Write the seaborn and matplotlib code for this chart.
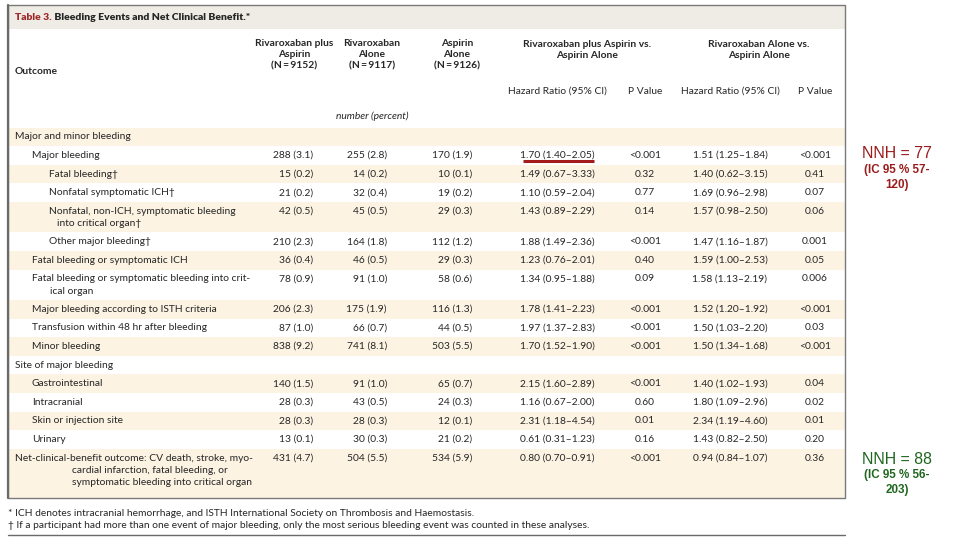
import numpy as np
import pandas as pd
import matplotlib
matplotlib.use("Agg")
import matplotlib.pyplot as plt
import seaborn as sns

# table content
outcomes = [
    "Major and minor bleeding",
    "Major bleeding",
    "Fatal bleeding†",
    "Nonfatal symptomatic ICH†",
    "Nonfatal, non-ICH, symptomatic bleeding\ninto critical organ†",
    "Other major bleeding†",
    "Fatal bleeding or symptomatic ICH",
    "Fatal bleeding or symptomatic bleeding into crit-\nical organ",
    "Major bleeding according to ISTH criteria",
    "Transfusion within 48 hr after bleeding",
    "Minor bleeding",
    "Site of major bleeding",
    "Gastrointestinal",
    "Intracranial",
    "Skin or injection site",
    "Urinary",
    "Net-clinical-benefit outcome: CV death, stroke, myo-\ncardial infarction, fatal bleeding, or\nsymptomatic bleeding into critical organ",
]
levels = [0, 1, 2, 2, 2, 2, 1, 1, 1, 1, 1, 0, 1, 1, 1, 1, 0]
riva_asp = ["", "288 (3.1)", "15 (0.2)", "21 (0.2)", "42 (0.5)", "210 (2.3)", "36 (0.4)", "78 (0.9)",
            "206 (2.3)", "87 (1.0)", "838 (9.2)", "", "140 (1.5)", "28 (0.3)", "28 (0.3)", "13 (0.1)", "431 (4.7)"]
riva = ["", "255 (2.8)", "14 (0.2)", "32 (0.4)", "45 (0.5)", "164 (1.8)", "46 (0.5)", "91 (1.0)",
        "175 (1.9)", "66 (0.7)", "741 (8.1)", "", "91 (1.0)", "43 (0.5)", "28 (0.3)", "30 (0.3)", "504 (5.5)"]
asp = ["", "170 (1.9)", "10 (0.1)", "19 (0.2)", "29 (0.3)", "112 (1.2)", "29 (0.3)", "58 (0.6)",
       "116 (1.3)", "44 (0.5)", "503 (5.5)", "", "65 (0.7)", "24 (0.3)", "12 (0.1)", "21 (0.2)", "534 (5.9)"]
hr_combo = ["", "1.70 (1.40–2.05)", "1.49 (0.67–3.33)", "1.10 (0.59–2.04)", "1.43 (0.89–2.29)",
            "1.88 (1.49–2.36)", "1.23 (0.76–2.01)", "1.34 (0.95–1.88)", "1.78 (1.41–2.23)",
            "1.97 (1.37–2.83)", "1.70 (1.52–1.90)", "", "2.15 (1.60–2.89)", "1.16 (0.67–2.00)",
            "2.31 (1.18–4.54)", "0.61 (0.31–1.23)", "0.80 (0.70–0.91)"]
p_combo = ["", "<0.001", "0.32", "0.77", "0.14", "<0.001", "0.40", "0.09", "<0.001", "<0.001",
           "<0.001", "", "<0.001", "0.60", "0.01", "0.16", "<0.001"]
hr_riva = ["", "1.51 (1.25–1.84)", "1.40 (0.62–3.15)", "1.69 (0.96–2.98)", "1.57 (0.98–2.50)",
           "1.47 (1.16–1.87)", "1.59 (1.00–2.53)", "1.58 (1.13–2.19)", "1.52 (1.20–1.92)",
           "1.50 (1.03–2.20)", "1.50 (1.34–1.68)", "", "1.40 (1.02–1.93)", "1.80 (1.09–2.96)",
           "2.34 (1.19–4.60)", "1.43 (0.82–2.50)", "0.94 (0.84–1.07)"]
p_riva = ["", "<0.001", "0.41", "0.07", "0.06", "0.001", "0.05", "0.006", "<0.001", "0.03",
          "<0.001", "", "0.04", "0.02", "0.01", "0.20", "0.36"]

arm_headers = ["Rivaroxaban plus\nAspirin\n(N\u2009=\u20099152)", "Rivaroxaban\nAlone\n(N\u2009=\u20099117)",
               "Aspirin\nAlone\n(N\u2009=\u20099126)"]
cmp_headers = ["Rivaroxaban plus Aspirin vs.\nAspirin Alone", "Rivaroxaban Alone vs.\nAspirin Alone"]
footnotes = [
    "* ICH denotes intracranial hemorrhage, and ISTH International Society on Thrombosis and Haemostasis.",
    "† If a participant had more than one event of major bleeding, only the most serious bleeding event was counted in these analyses.",
]
nnh = [("NNH = 77", "(IC 95 % 57-\n120)"), ("NNH = 88", "(IC 95 % 56-\n203)")]

df = pd.DataFrame({"outcome": outcomes, "level": levels, "riva_asp": riva_asp, "riva": riva,
                   "asp": asp, "hr_combo": hr_combo, "p_combo": p_combo,
                   "hr_riva": hr_riva, "p_riva": p_riva})

sns.set_theme(style="white")
plt.rcParams["font.family"] = ["Lato", "DejaVu Sans"]

fig = plt.figure(figsize=(9.6, 5.4), dpi=100)
ax = fig.add_axes([0, 0, 1, 1])
ax.set_xlim(0, 960)
ax.set_ylim(540, 0)
ax.axis("off")

LEFT, RIGHT, TOP, BOTTOM = 8, 845, 5, 498
BODY_TOP = 127.5
FS = 7.35
ink = "#262626"
cream = "#fcf3e3"

# row geometry
n_lines = df["outcome"].str.count("\n") + 1
heights = 18.6 + 11.8 * (n_lines - 1)
tops = BODY_TOP + np.concatenate([[0], np.cumsum(heights)[:-1]])
heights = heights.to_numpy().copy()
heights[-1] = BOTTOM - tops[-1]
centers = tops + heights / 2
stripe = [cream if i % 2 == 0 else "white" for i in range(len(df))]

# header band + body stripes
ax.barh(y=[(TOP + 29) / 2], width=RIGHT - LEFT, left=LEFT, height=29 - TOP, color="#efece5", linewidth=0)
ax.barh(y=centers, width=RIGHT - LEFT, left=LEFT, height=heights, color=stripe, linewidth=0)
ax.plot([LEFT, RIGHT, RIGHT, LEFT, LEFT], [TOP, TOP, BOTTOM, BOTTOM, TOP], color="#7a7a7a", lw=1.0)
ax.plot([LEFT, LEFT], [TOP, BOTTOM], color="#6a6a6a", lw=1.6)

# title
t1 = ax.text(15, 17, "Table 3.", fontsize=7.5, fontweight="heavy", color="#9e2a2b", va="center")
ax.annotate(" Bleeding Events and Net Clinical Benefit.*", xy=(1, 0.5), xycoords=t1, fontsize=7.5,
            fontweight="heavy", color=ink, va="center", ha="left")

# column headers
ax.text(15, 71, "Outcome", fontsize=FS, fontweight="bold", color=ink, va="center")
for x, lab in zip([294, 372, 457], arm_headers):
    ax.text(x, 55, lab, fontsize=FS, fontweight="bold", color=ink, ha="center", va="center",
            linespacing=1.3)
for x, lab in zip([587, 759], cmp_headers):
    ax.text(x, 50, lab, fontsize=FS, fontweight="bold", color=ink, ha="center", va="center",
            linespacing=1.3)
for x, lab in zip([557, 645, 730, 815], ["Hazard Ratio (95% CI)", "P Value"] * 2):
    ax.text(x, 91, lab, fontsize=FS, color=ink, ha="center", va="center")
ax.text(372, 116, "number (percent)", fontsize=FS, style="italic", color=ink, ha="center", va="center")

# body text
indent = {0: 15, 1: 32, 2: 49}
hang = [0, 0, 0, 0, 8, 0, 0, 18, 0, 0, 0, 0, 0, 0, 0, 0, 57]
for i, row in df.iterrows():
    y0 = tops[i] + 9.4
    for k, line in enumerate(row["outcome"].split("\n")):
        x = indent[row["level"]] + (hang[i] if k > 0 else 0)
        ax.text(x, y0 + k * 12.4, line, fontsize=FS, color=ink, va="center")
    ax.text(313, y0, row["riva_asp"], fontsize=FS, color=ink, ha="right", va="center")
    ax.text(387, y0, row["riva"], fontsize=FS, color=ink, ha="right", va="center")
    ax.text(472, y0, row["asp"], fontsize=FS, color=ink, ha="right", va="center")
    ax.text(557, y0, row["hr_combo"], fontsize=FS, color=ink, ha="center", va="center")
    ax.text(645, y0, row["p_combo"], fontsize=FS, color=ink, ha="center", va="center")
    ax.text(730, y0, row["hr_riva"], fontsize=FS, color=ink, ha="center", va="center")
    ax.text(815, y0, row["p_riva"], fontsize=FS, color=ink, ha="center", va="center")

# red underline on the major bleeding hazard ratio
ax.plot([523, 594], [161, 161], color="#a31b1b", lw=2.2, solid_capstyle="butt")

# footnotes
for k, note in enumerate(footnotes):
    ax.text(8, 513 + k * 12, note, fontsize=7.4, color=ink, va="center")
ax.plot([LEFT, RIGHT], [535, 535], color="#6a6a6a", lw=1.0)

# NNH annotations
for (big, small), y, col in zip(nnh, [154, 459], ["#9b1c1c", "#1f661f"]):
    ax.text(897, y, big, fontsize=11.4, family="Liberation Sans", color=col, ha="center", va="center")
    ax.text(897, y + 23.5, small, fontsize=8.4, family="Liberation Sans", fontweight="bold", color=col,
            ha="center", va="center", linespacing=1.25)

fig.savefig("out.png", dpi=100)
